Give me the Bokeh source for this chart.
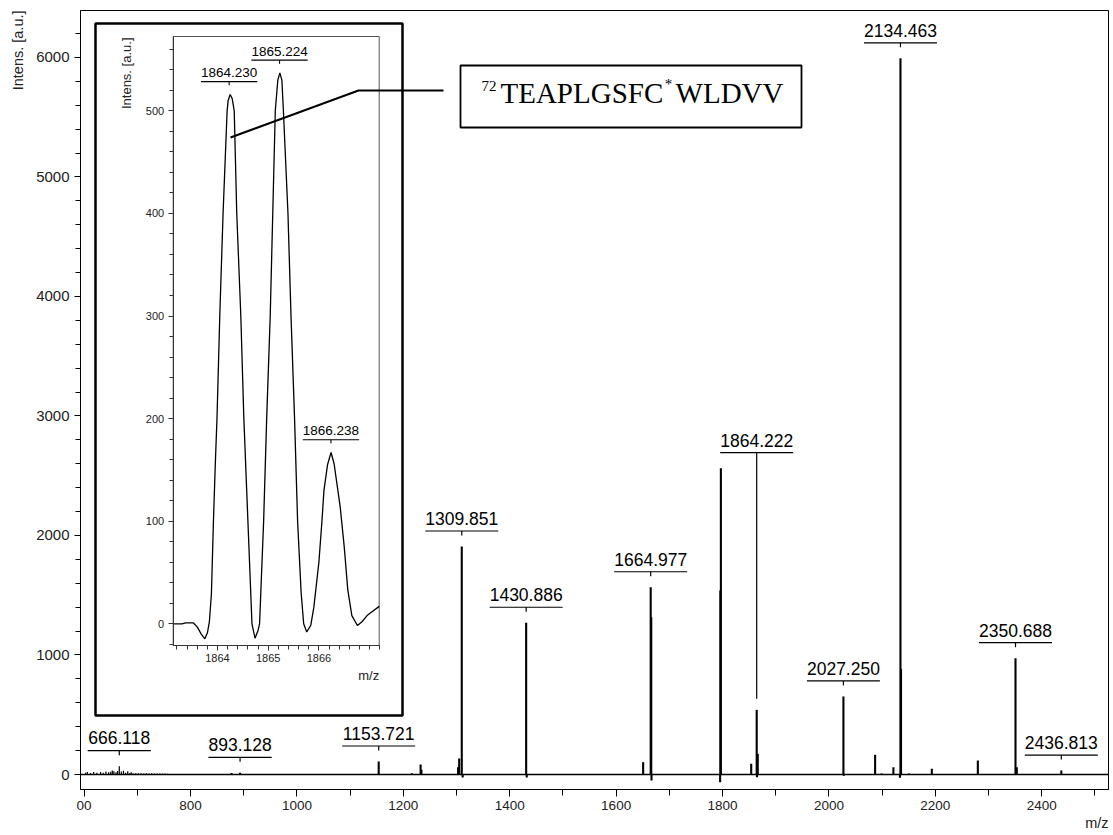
import numpy as np
from bokeh.plotting import figure
from bokeh.models import Range1d, LinearAxis, FixedTicker, Span, Label, BoxAnnotation, Title
from bokeh.core.properties import value
from bokeh.embed import file_html
from bokeh.resources import INLINE

# ---------------- data ----------------
noise_mz = [603, 606, 612, 618, 624, 631, 636, 641, 646, 650, 653, 656, 660, 663, 666.12, 670, 674, 678,
            682, 686, 688.5, 692, 697, 702, 707, 712, 717, 722, 727, 732, 737, 742, 747, 752, 757]
noise_int = [15, 20, 12, 20, 15, 20, 14, 25, 18, 22, 33, 28, 18, 30, 70, 25, 32, 15,
             28, 12, 18, 10, 10, 10, 10, 9, 10, 9, 10, 8, 9, 8, 8, 8, 7]

peak_mz = [877, 893.13, 1153.72, 1216, 1232.5, 1234, 1303, 1305, 1309.85, 1430.89, 1650.8, 1664.98,
           1666.0, 1795.9, 1796.9, 1853.9, 1864.22, 1866.2, 2027.25, 2086.8, 2099, 2121.2, 2134.46,
           2135.5, 2150.7, 2193.4, 2279.9, 2350.69, 2353.1, 2436.81]
peak_int = [12, 14, 109, 10, 84, 40, 60, 134, 1908, 1270, 103, 1567,
            1316, 1540, 2563, 89, 541, 173, 653, 165, 8, 61, 5993,
            884, 8, 48, 117, 973, 60, 33]

dip_mz = [1311.5, 1432.0, 1666.5, 1795.5, 1864.8, 2028.0, 2133.5]
dip_int = [-25, -25, -50, -64, -22, -10, -28]

label_text = ["666.118", "893.128", "1153.721", "1309.851", "1430.886", "1664.977",
              "1864.222", "2027.250", "2134.463", "2350.688", "2436.813"]

inset_mz = [1863.13, 1863.30, 1863.37, 1863.52, 1863.60, 1863.68, 1863.75, 1863.80, 1863.84, 1863.88,
            1863.92, 1863.96, 1863.99, 1864.045, 1864.11, 1864.19, 1864.21, 1864.25, 1864.29, 1864.33,
            1864.38, 1864.46, 1864.52, 1864.60, 1864.68, 1864.74, 1864.80, 1864.83, 1864.91, 1864.97,
            1865.04, 1865.09, 1865.14, 1865.19, 1865.23, 1865.27, 1865.30, 1865.39, 1865.45, 1865.52,
            1865.58, 1865.65, 1865.70, 1865.76, 1865.84, 1865.90, 1866.00, 1866.06, 1866.10, 1866.17,
            1866.24, 1866.30, 1866.42, 1866.50, 1866.57, 1866.65, 1866.76, 1866.85, 1866.95, 1867.08,
            1867.19]
inset_int = [0, 0, 1, 1, -3, -10, -14.6, -9, 2, 29,
             100, 160, 200, 300, 400, 500, 510, 516, 512, 500,
             400, 300, 200, 100, 0, -14, -6.5, 0, 100, 200,
             300, 400, 500, 530, 537, 530, 500, 400, 300, 200,
             100, 30, 0, -8, -1.5, 16, 60, 100, 130, 155,
             167, 156, 114, 75, 33, 8, -1.6, 2, 8, 13,
             17]
inset_label_text = ["1864.230", "1865.224", "1866.238"]

x_tick_values = [600, 800, 1000, 1200, 1400, 1600, 1800, 2000, 2200, 2400]
x_tick_labels = ["00", "800", "1000", "1200", "1400", "1600", "1800", "2000", "2200", "2400"]
y_tick_values = [0, 1000, 2000, 3000, 4000, 5000, 6000]
inset_x_ticks = [1864, 1865, 1866]
inset_y_ticks = [0, 100, 200, 300, 400, 500]

# ---------------- layout (pixels) ----------------
W, H = 1113, 835
FL, FR, FT, FB = 80, 1108, 10, 789
X0, X1 = 593.2, 2525.5
Y0, Y1 = -125.5, 6393.0
IX0, IX1 = 1861.298, 1881.574
IY0, IY1 = -161.5, 597.8
kx = (FR - FL) / (X1 - X0)
ky = (FB - FT) / (Y1 - Y0)
ikx = (FR - FL) / (IX1 - IX0)
iky = (FB - FT) / (IY1 - IY0)
BSHIFT = 0.42  # baseline correction (fraction of font size) for svg text
SANS = "Liberation Sans"
SERIF = "Liberation Serif"


def dx(px):
    return X0 + (px - FL) / kx


def dy(py):
    return Y0 + (FB - py) / ky


def ix(px):
    return IX0 + (px - FL) / ikx


def iy(py):
    return IY0 + (FB - py) / iky


p = figure(width=W, height=H, x_range=Range1d(X0, X1), y_range=Range1d(Y0, Y1),
           output_backend="svg", toolbar_location=None, title=None,
           min_border_left=FL, min_border_right=W - FR, min_border_top=FT, min_border_bottom=H - FB)
p.grid.visible = False
p.outline_line_color = "black"
p.outline_line_width = 1
p.background_fill_color = "white"
p.border_fill_color = "white"

xa = p.xaxis[0]
xa.ticker = FixedTicker(ticks=x_tick_values, minor_ticks=list(range(700, 2600, 200)))
xa.major_label_overrides = {v: t for v, t in zip(x_tick_values, x_tick_labels)}
xa.major_tick_out = 7
xa.major_tick_in = 0
xa.minor_tick_out = 6
xa.minor_tick_in = 0
xa.axis_line_color = "black"
xa.major_tick_line_color = "black"
xa.minor_tick_line_color = "black"
xa.major_label_text_font = SANS
xa.major_label_text_font_size = "13.5px"
xa.major_label_text_color = "#222222"
xa.major_label_standoff = 4

ya = p.yaxis[0]
ya.ticker = FixedTicker(ticks=y_tick_values, minor_ticks=[v for v in range(200, 6400, 200) if v % 1000])
ya.major_tick_out = 6
ya.major_tick_in = 0
ya.minor_tick_out = 5
ya.minor_tick_in = 0
ya.axis_line_color = "black"
ya.major_tick_line_color = "black"
ya.minor_tick_line_color = "black"
ya.major_label_text_font = SANS
ya.major_label_text_font_size = "15px"
ya.major_label_text_color = "#222222"
ya.major_label_standoff = 5

# axis titles as side-panel titles
p.add_layout(Title(text="Intens. [a.u.]", align="right", text_font=SANS,
                   text_font_size="14.5px", text_font_style="normal", text_color="#222222",
                   standoff=15), "left")
p.add_layout(Title(text="m/z", align="right", text_font=SANS,
                   text_font_size="14.5px", text_font_style="normal", text_color="#222222",
                   standoff=0), "below")

# ---------------- main spectrum ----------------
p.add_layout(Span(location=0, dimension="width", line_color="black", line_width=1.3))
p.segment(x0=noise_mz, y0=0, x1=noise_mz, y1=noise_int, line_color="black", line_width=1.2)
p.segment(x0=peak_mz, y0=0, x1=peak_mz, y1=peak_int, line_color="black", line_width=2.1)
p.segment(x0=dip_mz, y0=0, x1=dip_mz, y1=dip_int, line_color="black", line_width=2.1)

all_mz = np.array(noise_mz + peak_mz)
all_int = np.array(noise_int + peak_int)
LFS = 17.5
lab_x, lab_uy, lab_ty, ul_x0, ul_x1, tk_y1 = [], [], [], [], [], []
for t in label_text:
    m = float(t)
    anchor = all_int[np.abs(all_mz - m) <= 75].max()
    own = all_int[np.abs(all_mz - m) <= 3].max()
    uy = anchor + 15.5 / ky
    w = (sum(c.isdigit() for c in t) * 0.556 + t.count(".") * 0.278) * LFS
    lab_x.append(m)
    lab_uy.append(uy)
    lab_ty.append(uy + (5.3 + BSHIFT * LFS) / ky)
    ul_x0.append(m - w / 2 / kx)
    ul_x1.append(m + w / 2 / kx)
    tk_y1.append(own + 11 / ky)

p.segment(x0=ul_x0, y0=lab_uy, x1=ul_x1, y1=lab_uy, line_color="black", line_width=1.2)
p.segment(x0=lab_x, y0=lab_uy, x1=lab_x, y1=tk_y1, line_color="black", line_width=1.2)
p.text(x=lab_x, y=lab_ty, text=label_text, text_align="center", text_baseline="alphabetic",
       text_font=value(SANS), text_font_size=value(f"{LFS}px"), text_color="black")

# ---------------- inset ----------------
p.extra_x_ranges = {"ix": Range1d(IX0, IX1)}
p.extra_y_ranges = {"iy": Range1d(IY0, IY1)}
IL, IR, IB, IT = ix(172.7), ix(378.7), iy(645), iy(36)

p.add_layout(BoxAnnotation(left=dx(95), right=dx(402), top=dy(23), bottom=dy(715),
                           fill_color=None, line_color="black", line_alpha=1.0, line_width=2.5))
p.quad(left=[IL], right=[IR], bottom=[IB], top=[IT], fill_color=None, line_color="#555555",
       line_width=1, x_range_name="ix", y_range_name="iy")
p.line(x=inset_mz, y=inset_int, line_color="black", line_width=1.3, x_range_name="ix", y_range_name="iy")

iax = LinearAxis(x_range_name="ix", y_range_name="iy", fixed_location=IB, bounds=(IL, IR),
                 ticker=FixedTicker(ticks=inset_x_ticks,
                                    minor_ticks=[round(1863.2 + 0.2 * i, 1) for i in range(21)]))
iay = LinearAxis(x_range_name="ix", y_range_name="iy", fixed_location=IL, bounds=(IB, IT),
                 ticker=FixedTicker(ticks=inset_y_ticks, minor_ticks=list(range(-20, 580, 20))))
for ax in (iax, iay):
    ax.major_tick_out = 5
    ax.major_tick_in = 0
    ax.minor_tick_out = 4
    ax.minor_tick_in = 0
    ax.axis_line_color = "#333333"
    ax.major_tick_line_color = "#333333"
    ax.minor_tick_line_color = "#333333"
    ax.major_label_text_font = SANS
    ax.major_label_text_font_size = "11px"
    ax.major_label_text_color = "#222222"
iax.major_label_standoff = 3
iay.major_label_standoff = 4
p.add_layout(iax, "below")
p.add_layout(iay, "left")

ILFS = 13.5
il_x, il_uy, il_ty, il_x0, il_x1, il_tk = [], [], [], [], [], []
imz = np.array(inset_mz)
iint = np.array(inset_int)
for t in inset_label_text:
    m = float(t)
    anchor = iint[np.abs(imz - m) <= 0.08].max()
    uy = anchor + 12.8 / iky
    w = (sum(c.isdigit() for c in t) * 0.556 + t.count(".") * 0.278) * ILFS
    il_x.append(m)
    il_uy.append(uy)
    il_ty.append(uy + (3.4 + BSHIFT * ILFS) / iky)
    il_x0.append(m - w / 2 / ikx)
    il_x1.append(m + w / 2 / ikx)
    il_tk.append(uy - 3.6 / iky)
p.segment(x0=il_x0, y0=il_uy, x1=il_x1, y1=il_uy, line_color="black", line_width=1.1,
          x_range_name="ix", y_range_name="iy")
p.segment(x0=il_x, y0=il_uy, x1=il_x, y1=il_tk, line_color="black", line_width=1.1,
          x_range_name="ix", y_range_name="iy")
p.text(x=il_x, y=il_ty, text=inset_label_text, text_align="center", text_baseline="alphabetic",
       text_font=value(SANS), text_font_size=value(f"{ILFS}px"), text_color="black",
       x_range_name="ix", y_range_name="iy")

p.add_layout(Label(x=dx(378.7), y=dy(680 - BSHIFT * 13), text="m/z", text_align="right",
                   text_baseline="alphabetic", text_font=SANS, text_font_size="13px",
                   text_color="#222222"))
p.add_layout(Label(x=dx(131.5 - BSHIFT * 13), y=dy(37), text="Intens. [a.u.]", angle=np.pi / 2,
                   text_align="right", text_baseline="alphabetic", text_font=SANS,
                   text_font_size="13px", text_color="#222222"))

# ---------------- peptide annotation ----------------
p.line(x=[dx(230), dx(358), dx(443)], y=[dy(137), dy(90), dy(90)], line_color="black", line_width=2)
p.add_layout(BoxAnnotation(left=dx(460), right=dx(801), top=dy(65), bottom=dy(127),
                           fill_color=None, line_color="black", line_alpha=1.0, line_width=1.8))
p.add_layout(Label(x=dx(481), y=dy(92 - BSHIFT * 15), text="72", text_baseline="alphabetic",
                   text_font=SERIF, text_font_size="15px", text_color="black"))
p.add_layout(Label(x=dx(500), y=dy(105 - BSHIFT * 29), text="TEAPLGSFC", text_baseline="alphabetic",
                   text_font=SERIF, text_font_size="29px", text_color="black"))
p.add_layout(Label(x=dx(668), y=dy(90 - BSHIFT * 15), text="*", text_align="center",
                   text_baseline="alphabetic", text_font=SERIF, text_font_size="15px",
                   text_color="black"))
p.add_layout(Label(x=dx(783), y=dy(105 - BSHIFT * 29), text="WLDVV", text_align="right",
                   text_baseline="alphabetic", text_font=SERIF, text_font_size="29px",
                   text_color="black"))

open("out.html", "w").write(file_html(p, INLINE))
